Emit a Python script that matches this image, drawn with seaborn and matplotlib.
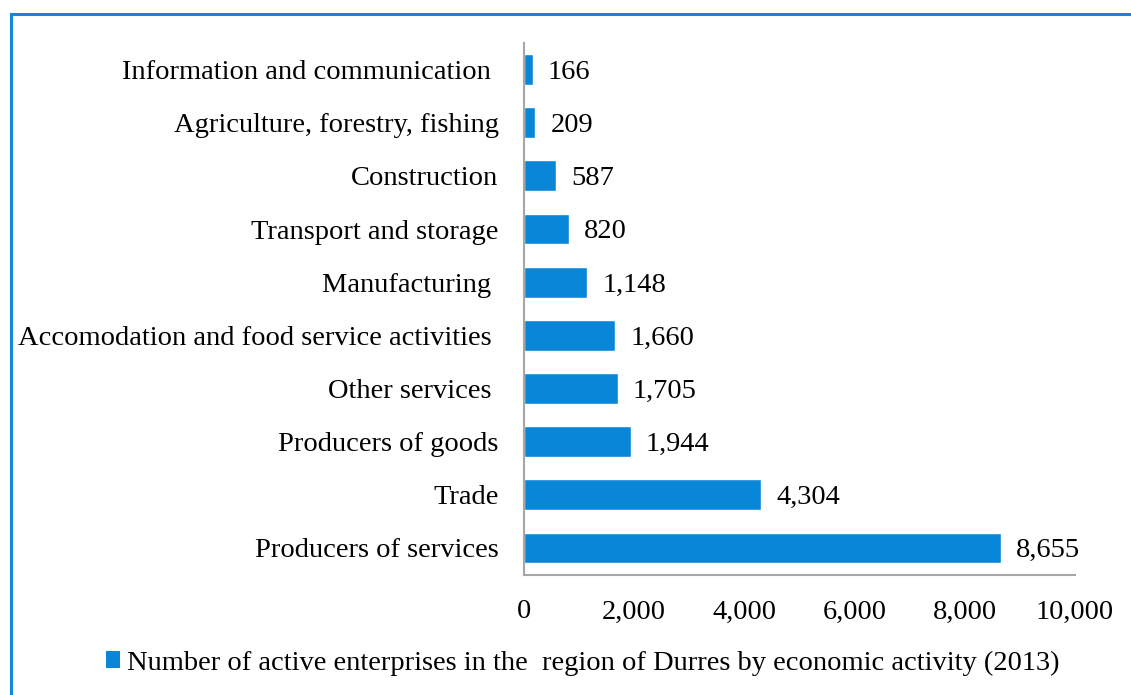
import matplotlib
matplotlib.use("Agg")
import matplotlib.pyplot as plt
import seaborn as sns
import pandas as pd
from matplotlib.patches import Rectangle, Patch

categories = [
    "Information and communication ",
    "Agriculture, forestry, fishing",
    "Construction",
    "Transport and storage",
    "Manufacturing ",
    "Accomodation and food service activities ",
    "Other services ",
    "Producers of goods",
    "Trade",
    "Producers of services",
]
values = [166, 209, 587, 820, 1148, 1660, 1705, 1944, 4304, 8655]
xticks = [0, 2000, 4000, 6000, 8000, 10000]
legend_label = "Number of active enterprises in the  region of Durres by economic activity (2013)"

sns.set_theme(style="white")
plt.rcParams["font.family"] = ["Liberation Serif", "DejaVu Serif"]
plt.rcParams["text.color"] = "#000000"

FS = 20.5
W, H = 1131, 695
fig = plt.figure(figsize=(W / 100, H / 100), dpi=100)
ax = fig.add_axes([523.5 / W, 1 - 574.5 / H, (1075 - 523.5) / W, (574.5 - 43) / H])

color = "#0A86D8"
df = pd.DataFrame({"cat": categories, "val": values})
sns.barplot(data=df, x="val", y="cat", orient="h", color=color, width=0.58,
            saturation=1, ax=ax)

ax.set_xlim(0, 10000)
ax.set_ylim(len(categories) - 0.5, -0.5)
ax.set_xticks(xticks)
ax.set_xticklabels([f"{t:,}" for t in xticks])
ax.set_xlabel("")
ax.set_ylabel("")
ax.tick_params(axis="x", length=0, pad=18, labelsize=FS)
ax.tick_params(axis="y", length=0, pad=18, labelsize=FS)
for lab in ax.get_xticklabels() + ax.get_yticklabels():
    lab.set_color("#000000")

for s in ["top", "right"]:
    ax.spines[s].set_visible(False)
for s in ["left", "bottom"]:
    ax.spines[s].set_color("#A6A6A6")
    ax.spines[s].set_linewidth(1.5)

for i, v in enumerate(values):
    ax.annotate(f"{v:,}", xy=(v, i), xytext=(11, -2), textcoords="offset points",
                ha="left", va="center", fontsize=FS, color="#000000")

handle = Patch(facecolor=color, edgecolor="none")
fig.legend([handle], [legend_label], loc="center", bbox_to_anchor=(583 / W, 1 - 663 / H),
           frameon=False, fontsize=FS, handlelength=0.5, handleheight=0.5,
           handletextpad=0.25, borderpad=0, labelcolor="#000000")

# blue frame (top and left edges visible)
fig.patches.append(Rectangle((10.5 / W, -0.2), 1.5, 1.2 - 13.5 / H,
                             transform=fig.transFigure, fill=False,
                             edgecolor="#1188DD", linewidth=2.2))

fig.savefig("out.png", dpi=100)
